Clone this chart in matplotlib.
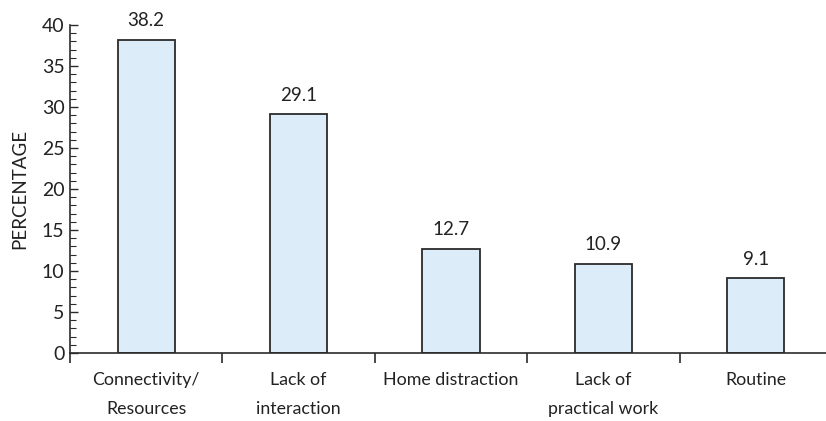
import numpy as np
import matplotlib.pyplot as plt
from matplotlib.ticker import MultipleLocator, FixedLocator

plt.rcParams['font.family'] = ['Lato', 'DejaVu Sans']

# 数据
categories = ['Connectivity/\nResources', 'Lack of\ninteraction', 'Home distraction',
              'Lack of\npractical work', 'Routine']
values = [38.2, 29.1, 12.7, 10.9, 9.1]

fig = plt.figure(figsize=(8.26, 4.21), dpi=100)
ax = fig.add_axes([0.0847, 0.1615, 0.9153, 0.7791])

x = np.arange(len(categories))
bars = ax.bar(x, values, width=0.375, color='#dcecf8', edgecolor='#2b2b2b', linewidth=1.3)

for xi, v in zip(x, values):
    ax.text(xi, v + 1.3, '%.1f' % v, ha='center', va='bottom', fontsize=13.5, color='#222222')

ax.set_xlim(-0.5, 4.46)
ax.set_ylim(0, 40)
ax.spines['top'].set_visible(False)
ax.spines['right'].set_visible(False)
ax.spines['left'].set_color('#2b2b2b')
ax.spines['bottom'].set_color('#2b2b2b')
ax.spines['left'].set_linewidth(1.2)
ax.spines['bottom'].set_linewidth(1.2)

# y轴刻度
ax.yaxis.set_major_locator(MultipleLocator(5))
ax.yaxis.set_minor_locator(MultipleLocator(1))
ax.tick_params(axis='y', which='major', direction='in', length=6, width=1, labelsize=14, pad=4, colors='#2b2b2b')
ax.tick_params(axis='y', which='minor', direction='in', length=4, width=0.8, colors='#2b2b2b')
ax.tick_params(axis='y', labelcolor='#222222')

# x轴：标签居中，刻度在分隔处
ax.set_xticks(x)
ax.set_xticklabels(categories, fontsize=12.8, color='#222222', linespacing=1.95)
ax.tick_params(axis='x', which='major', length=0, pad=14)
ax.xaxis.set_minor_locator(FixedLocator([-0.5, 0.5, 1.5, 2.5, 3.5]))
ax.tick_params(axis='x', which='minor', direction='out', length=7, width=1.2, colors='#2b2b2b')

ax.set_ylabel('PERCENTAGE', fontsize=13.5, color='#222222', labelpad=10)

fig.savefig('out.png', dpi=100)
